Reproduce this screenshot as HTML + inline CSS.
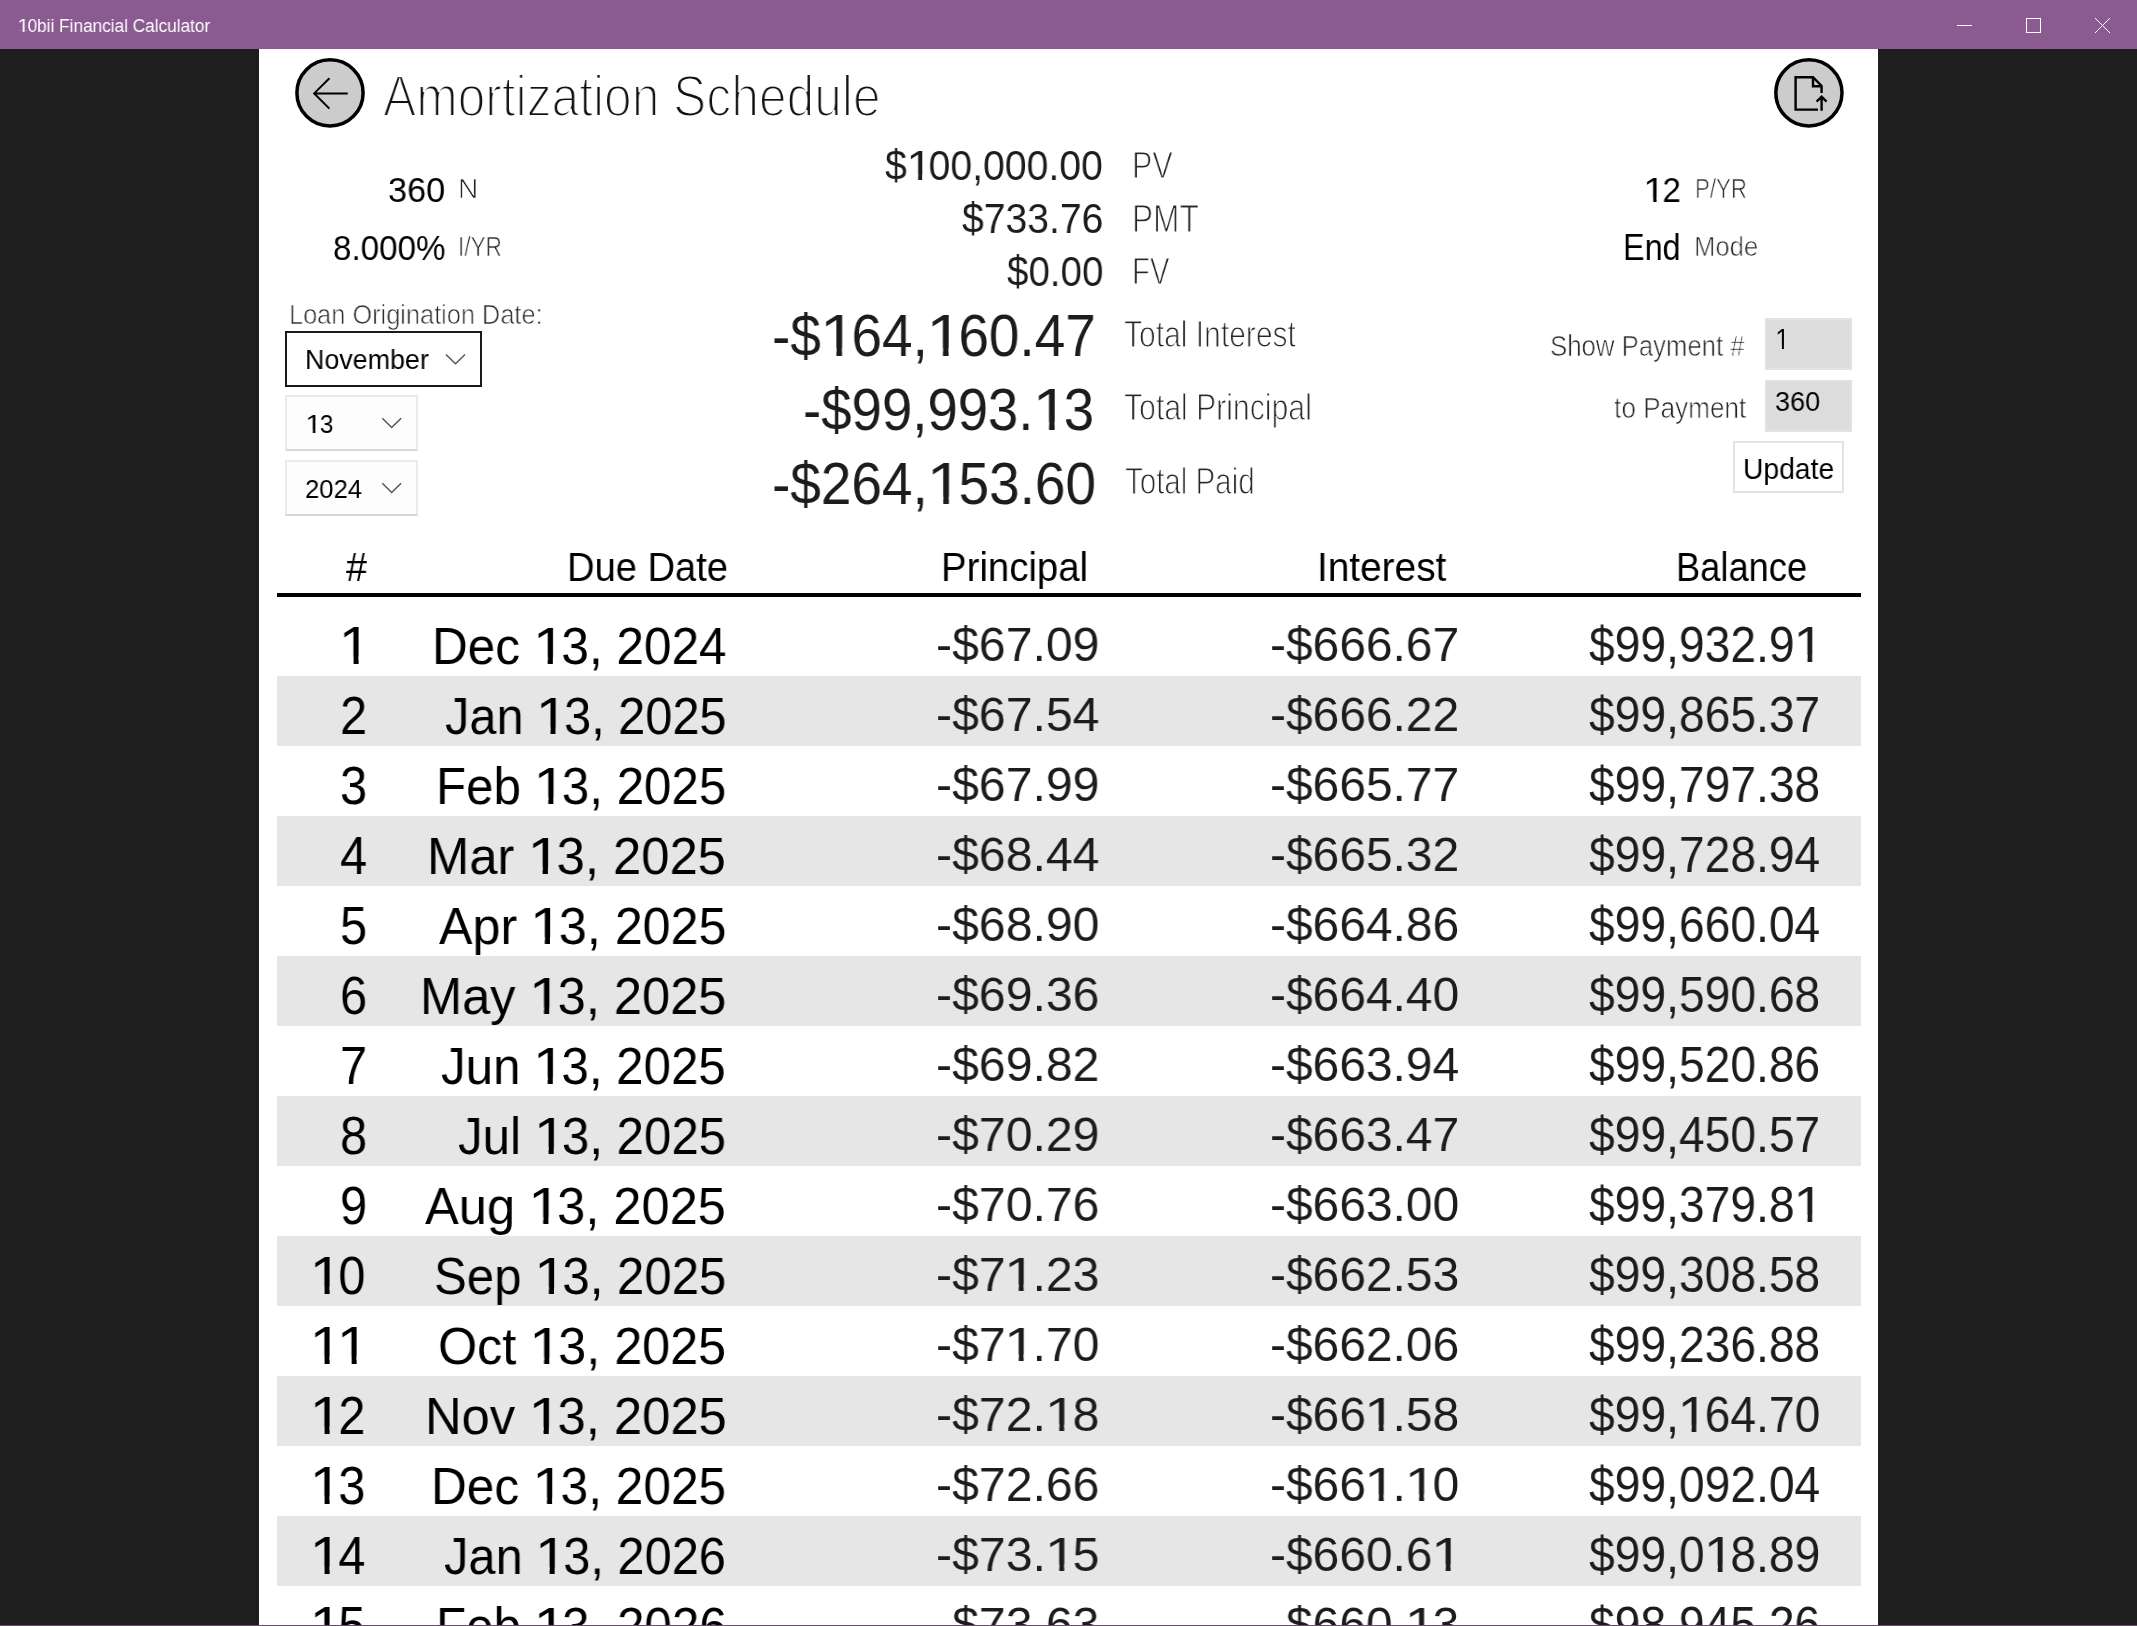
<!DOCTYPE html>
<html>
<head>
<meta charset="utf-8">
<title>10bii Financial Calculator</title>
<style>
html, body { margin: 0; padding: 0; }
body {
  width: 2137px; height: 1626px; overflow: hidden; position: relative;
  background: #1e1e1e;
  font-family: "Liberation Sans", sans-serif;
}
.titlebar { position: absolute; left: 0; top: 0; width: 2137px; height: 49px; background: #8b5a91; }
.panel { position: absolute; left: 259px; top: 49px; width: 1619px; height: 1577px; background: #fff; overflow: hidden; }
.o { display: inline-block; transform: scaleX(1.2); transform-origin: 0.13em 0; clip-path: polygon(0 0, 100% 0, 100% calc(100% - 0.29em), 0.339em calc(100% - 0.29em), 0.339em 100%, 0.253em 100%, 0.253em calc(100% - 0.29em), 0 calc(100% - 0.29em)); }
.t { position: absolute; white-space: nowrap; line-height: 1; transform-origin: 0 0; will-change: transform; }
.layer { position: absolute; left: 0; top: 0; width: 2137px; height: 1626px; }
.clip { position: absolute; left: 0; top: 0; width: 2137px; height: 1625px; overflow: hidden; }
.stripe { position: absolute; left: 277px; width: 1584px; height: 70px; background: #e6e6e6; }
.hline { position: absolute; left: 277px; top: 593px; width: 1584px; height: 4px; background: #000; }
.box { position: absolute; box-sizing: border-box; }
.botline { position: absolute; left: 0; top: 1625px; width: 2137px; height: 1px; background: #6e4a73; }
</style>
</head>
<body>
<div class="titlebar"></div>
<div class="panel"></div>
<div style="position:absolute;left:0;top:49px;width:259px;height:3px;background:linear-gradient(#241629,#1e1e1e)"></div>
<div style="position:absolute;left:1878px;top:49px;width:259px;height:3px;background:linear-gradient(#241629,#1e1e1e)"></div>
<div style="position:absolute;left:259px;top:49px;width:1619px;height:2px;background:linear-gradient(#fbf2fb,#fff)"></div>

<!-- window controls -->
<svg class="layer" width="2137" height="60" viewBox="0 0 2137 60" style="height:60px">
  <line x1="1957" y1="25.5" x2="1972" y2="25.5" stroke="#fff" stroke-width="1"/>
  <rect x="2026.5" y="18.5" width="14" height="14" fill="none" stroke="#fff" stroke-width="1"/>
  <line x1="2095" y1="18" x2="2110" y2="33" stroke="#fff" stroke-width="1"/>
  <line x1="2110" y1="18" x2="2095" y2="33" stroke="#fff" stroke-width="1"/>
</svg>

<!-- back button + export button -->
<svg class="layer" width="2137" height="140" viewBox="0 0 2137 140" style="height:140px">
  <circle cx="330" cy="92.9" r="33.1" fill="#cccccc" stroke="#000" stroke-width="3.5"/>
  <path d="M329.4 78.3 L314.2 93.4 L329.4 108.6 M314.2 93.4 L347.8 93.4" fill="none" stroke="#000" stroke-width="2"/>
  <circle cx="1808.9" cy="92.85" r="33.1" fill="#cccccc" stroke="#000" stroke-width="3.5"/>
  <path d="M1818 109.6 L1795.6 109.6 L1795.6 77.2 L1813 77.2 L1821.6 86 L1821.6 93 M1813 77.2 L1813 86.2 L1821.6 86.2" fill="none" stroke="#000" stroke-width="2.4"/>
  <path d="M1821.6 96.5 L1821.6 110.8 M1816.6 101.6 L1821.6 96.6 L1826.6 101.6" fill="none" stroke="#000" stroke-width="2.4"/>
</svg>

<!-- form controls -->
<div class="box" style="left:285px;top:331px;width:197px;height:56px;border:2px solid #1a1a1a;background:#fff"></div>
<div class="box" style="left:285px;top:395px;width:133px;height:56px;border:2px solid #ebebeb;border-bottom:2px solid #d6d6d6;background:#fdfdfd"></div>
<div class="box" style="left:285px;top:460px;width:133px;height:56px;border:2px solid #ebebeb;border-bottom:2px solid #d6d6d6;background:#fdfdfd"></div>
<svg class="layer" width="2137" height="520" viewBox="0 0 2137 520" style="height:520px">
  <path d="M446 354.5 L455.5 363.8 L465 354.5" fill="none" stroke="#555" stroke-width="1.5"/>
  <path d="M382.3 418.2 L391.7 427.5 L401.1 418.2" fill="none" stroke="#555" stroke-width="1.5"/>
  <path d="M382.3 483.2 L391.7 492.5 L401.1 483.2" fill="none" stroke="#555" stroke-width="1.5"/>
</svg>
<div class="box" style="left:1765px;top:318px;width:87px;height:52px;background:#dcdcdc;border:2px solid #e2e2e2"></div>
<div class="box" style="left:1765px;top:380px;width:87px;height:52px;background:#dcdcdc;border:2px solid #e2e2e2"></div>
<div class="box" style="left:1733px;top:441px;width:111px;height:52px;background:#fff;border:2px solid #e3e3e3"></div>

<!-- table -->
<div class="clip">
<div class="stripe" style="top:676.0px"></div>
<div class="stripe" style="top:816.0px"></div>
<div class="stripe" style="top:956.0px"></div>
<div class="stripe" style="top:1096.0px"></div>
<div class="stripe" style="top:1236.0px"></div>
<div class="stripe" style="top:1376.0px"></div>
<div class="stripe" style="top:1516.0px"></div>
<div class="hline"></div>
<div class="t" style="left:340px;top:618px;font-size:54.15px;transform:scaleX(0.9020);color:#000;"><span class="o">1</span></div>
<div class="t" style="left:432px;top:620px;font-size:52.44px;transform:scaleX(0.9441);color:#000;">Dec <span class="o">1</span>3, 2024</div>
<div class="t" style="left:936px;top:620px;font-size:48.71px;transform:scaleX(0.9898);color:#1c1c1c;">-$67.09</div>
<div class="t" style="left:1270px;top:620px;font-size:48.71px;transform:scaleX(0.9839);color:#1c1c1c;">-$666.67</div>
<div class="t" style="left:1589px;top:620px;font-size:49.43px;transform:scaleX(0.9346);color:#1c1c1c;">$99,932.9<span class="o">1</span></div>
<div class="t" style="left:340px;top:688px;font-size:54.15px;transform:scaleX(0.9020);color:#000;--bg:#e6e6e6;">2</div>
<div class="t" style="left:445px;top:690px;font-size:52.44px;transform:scaleX(0.9284);color:#000;--bg:#e6e6e6;">Jan <span class="o">1</span>3, 2025</div>
<div class="t" style="left:936px;top:690px;font-size:48.71px;transform:scaleX(0.9898);color:#1c1c1c;--bg:#e6e6e6;">-$67.54</div>
<div class="t" style="left:1270px;top:690px;font-size:48.71px;transform:scaleX(0.9839);color:#1c1c1c;--bg:#e6e6e6;">-$666.22</div>
<div class="t" style="left:1589px;top:690px;font-size:49.43px;transform:scaleX(0.9346);color:#1c1c1c;--bg:#e6e6e6;">$99,865.37</div>
<div class="t" style="left:340px;top:758px;font-size:54.15px;transform:scaleX(0.9020);color:#000;">3</div>
<div class="t" style="left:436px;top:760px;font-size:52.44px;transform:scaleX(0.9389);color:#000;">Feb <span class="o">1</span>3, 2025</div>
<div class="t" style="left:936px;top:760px;font-size:48.71px;transform:scaleX(0.9898);color:#1c1c1c;">-$67.99</div>
<div class="t" style="left:1270px;top:760px;font-size:48.71px;transform:scaleX(0.9839);color:#1c1c1c;">-$665.77</div>
<div class="t" style="left:1589px;top:760px;font-size:49.43px;transform:scaleX(0.9346);color:#1c1c1c;">$99,797.38</div>
<div class="t" style="left:340px;top:828px;font-size:54.15px;transform:scaleX(0.9020);color:#000;--bg:#e6e6e6;">4</div>
<div class="t" style="left:427px;top:830px;font-size:52.44px;transform:scaleX(0.9673);color:#000;--bg:#e6e6e6;">Mar <span class="o">1</span>3, 2025</div>
<div class="t" style="left:936px;top:830px;font-size:48.71px;transform:scaleX(0.9898);color:#1c1c1c;--bg:#e6e6e6;">-$68.44</div>
<div class="t" style="left:1270px;top:830px;font-size:48.71px;transform:scaleX(0.9839);color:#1c1c1c;--bg:#e6e6e6;">-$665.32</div>
<div class="t" style="left:1589px;top:830px;font-size:49.43px;transform:scaleX(0.9346);color:#1c1c1c;--bg:#e6e6e6;">$99,728.94</div>
<div class="t" style="left:340px;top:898px;font-size:54.15px;transform:scaleX(0.9020);color:#000;">5</div>
<div class="t" style="left:439px;top:900px;font-size:52.44px;transform:scaleX(0.9569);color:#000;">Apr <span class="o">1</span>3, 2025</div>
<div class="t" style="left:936px;top:900px;font-size:48.71px;transform:scaleX(0.9898);color:#1c1c1c;">-$68.90</div>
<div class="t" style="left:1270px;top:900px;font-size:48.71px;transform:scaleX(0.9839);color:#1c1c1c;">-$664.86</div>
<div class="t" style="left:1589px;top:900px;font-size:49.43px;transform:scaleX(0.9346);color:#1c1c1c;">$99,660.04</div>
<div class="t" style="left:340px;top:968px;font-size:54.15px;transform:scaleX(0.9020);color:#000;--bg:#e6e6e6;">6</div>
<div class="t" style="left:420px;top:970px;font-size:52.44px;transform:scaleX(0.9642);color:#000;--bg:#e6e6e6;">May <span class="o">1</span>3, 2025</div>
<div class="t" style="left:936px;top:970px;font-size:48.71px;transform:scaleX(0.9898);color:#1c1c1c;--bg:#e6e6e6;">-$69.36</div>
<div class="t" style="left:1270px;top:970px;font-size:48.71px;transform:scaleX(0.9839);color:#1c1c1c;--bg:#e6e6e6;">-$664.40</div>
<div class="t" style="left:1589px;top:970px;font-size:49.43px;transform:scaleX(0.9346);color:#1c1c1c;--bg:#e6e6e6;">$99,590.68</div>
<div class="t" style="left:340px;top:1038px;font-size:54.15px;transform:scaleX(0.9020);color:#000;">7</div>
<div class="t" style="left:441px;top:1040px;font-size:52.44px;transform:scaleX(0.9390);color:#000;">Jun <span class="o">1</span>3, 2025</div>
<div class="t" style="left:936px;top:1040px;font-size:48.71px;transform:scaleX(0.9898);color:#1c1c1c;">-$69.82</div>
<div class="t" style="left:1270px;top:1040px;font-size:48.71px;transform:scaleX(0.9839);color:#1c1c1c;">-$663.94</div>
<div class="t" style="left:1589px;top:1040px;font-size:49.43px;transform:scaleX(0.9346);color:#1c1c1c;">$99,520.86</div>
<div class="t" style="left:340px;top:1108px;font-size:54.15px;transform:scaleX(0.9020);color:#000;--bg:#e6e6e6;">8</div>
<div class="t" style="left:458px;top:1110px;font-size:52.44px;transform:scaleX(0.9381);color:#000;--bg:#e6e6e6;">Jul <span class="o">1</span>3, 2025</div>
<div class="t" style="left:936px;top:1110px;font-size:48.71px;transform:scaleX(0.9898);color:#1c1c1c;--bg:#e6e6e6;">-$70.29</div>
<div class="t" style="left:1270px;top:1110px;font-size:48.71px;transform:scaleX(0.9839);color:#1c1c1c;--bg:#e6e6e6;">-$663.47</div>
<div class="t" style="left:1589px;top:1110px;font-size:49.43px;transform:scaleX(0.9346);color:#1c1c1c;--bg:#e6e6e6;">$99,450.57</div>
<div class="t" style="left:340px;top:1178px;font-size:54.15px;transform:scaleX(0.9020);color:#000;">9</div>
<div class="t" style="left:425px;top:1180px;font-size:52.44px;transform:scaleX(0.9643);color:#000;">Aug <span class="o">1</span>3, 2025</div>
<div class="t" style="left:936px;top:1180px;font-size:48.71px;transform:scaleX(0.9898);color:#1c1c1c;">-$70.76</div>
<div class="t" style="left:1270px;top:1180px;font-size:48.71px;transform:scaleX(0.9839);color:#1c1c1c;">-$663.00</div>
<div class="t" style="left:1589px;top:1180px;font-size:49.43px;transform:scaleX(0.9346);color:#1c1c1c;">$99,379.8<span class="o">1</span></div>
<div class="t" style="left:311px;top:1248px;font-size:54.15px;transform:scaleX(0.9020);color:#000;--bg:#e6e6e6;"><span class="o">1</span>0</div>
<div class="t" style="left:434px;top:1250px;font-size:52.44px;transform:scaleX(0.9369);color:#000;--bg:#e6e6e6;">Sep <span class="o">1</span>3, 2025</div>
<div class="t" style="left:936px;top:1250px;font-size:48.71px;transform:scaleX(0.9898);color:#1c1c1c;--bg:#e6e6e6;">-$7<span class="o">1</span>.23</div>
<div class="t" style="left:1270px;top:1250px;font-size:48.71px;transform:scaleX(0.9839);color:#1c1c1c;--bg:#e6e6e6;">-$662.53</div>
<div class="t" style="left:1589px;top:1250px;font-size:49.43px;transform:scaleX(0.9346);color:#1c1c1c;--bg:#e6e6e6;">$99,308.58</div>
<div class="t" style="left:311px;top:1318px;font-size:54.15px;transform:scaleX(0.9020);color:#000;"><span class="o">1</span><span class="o">1</span></div>
<div class="t" style="left:438px;top:1320px;font-size:52.44px;transform:scaleX(0.9595);color:#000;">Oct <span class="o">1</span>3, 2025</div>
<div class="t" style="left:936px;top:1320px;font-size:48.71px;transform:scaleX(0.9898);color:#1c1c1c;">-$7<span class="o">1</span>.70</div>
<div class="t" style="left:1270px;top:1320px;font-size:48.71px;transform:scaleX(0.9839);color:#1c1c1c;">-$662.06</div>
<div class="t" style="left:1589px;top:1320px;font-size:49.43px;transform:scaleX(0.9346);color:#1c1c1c;">$99,236.88</div>
<div class="t" style="left:311px;top:1388px;font-size:54.15px;transform:scaleX(0.9020);color:#000;--bg:#e6e6e6;"><span class="o">1</span>2</div>
<div class="t" style="left:425px;top:1390px;font-size:52.44px;transform:scaleX(0.9672);color:#000;--bg:#e6e6e6;">Nov <span class="o">1</span>3, 2025</div>
<div class="t" style="left:936px;top:1390px;font-size:48.71px;transform:scaleX(0.9898);color:#1c1c1c;--bg:#e6e6e6;">-$72.<span class="o">1</span>8</div>
<div class="t" style="left:1270px;top:1390px;font-size:48.71px;transform:scaleX(0.9839);color:#1c1c1c;--bg:#e6e6e6;">-$66<span class="o">1</span>.58</div>
<div class="t" style="left:1589px;top:1390px;font-size:49.43px;transform:scaleX(0.9346);color:#1c1c1c;--bg:#e6e6e6;">$99,<span class="o">1</span>64.70</div>
<div class="t" style="left:311px;top:1458px;font-size:54.15px;transform:scaleX(0.9020);color:#000;"><span class="o">1</span>3</div>
<div class="t" style="left:431px;top:1460px;font-size:52.44px;transform:scaleX(0.9460);color:#000;">Dec <span class="o">1</span>3, 2025</div>
<div class="t" style="left:936px;top:1460px;font-size:48.71px;transform:scaleX(0.9898);color:#1c1c1c;">-$72.66</div>
<div class="t" style="left:1270px;top:1460px;font-size:48.71px;transform:scaleX(0.9839);color:#1c1c1c;">-$66<span class="o">1</span>.<span class="o">1</span>0</div>
<div class="t" style="left:1589px;top:1460px;font-size:49.43px;transform:scaleX(0.9346);color:#1c1c1c;">$99,092.04</div>
<div class="t" style="left:311px;top:1528px;font-size:54.15px;transform:scaleX(0.9020);color:#000;--bg:#e6e6e6;"><span class="o">1</span>4</div>
<div class="t" style="left:444px;top:1530px;font-size:52.44px;transform:scaleX(0.9297);color:#000;--bg:#e6e6e6;">Jan <span class="o">1</span>3, 2026</div>
<div class="t" style="left:936px;top:1530px;font-size:48.71px;transform:scaleX(0.9898);color:#1c1c1c;--bg:#e6e6e6;">-$73.<span class="o">1</span>5</div>
<div class="t" style="left:1270px;top:1530px;font-size:48.71px;transform:scaleX(0.9839);color:#1c1c1c;--bg:#e6e6e6;">-$660.6<span class="o">1</span></div>
<div class="t" style="left:1589px;top:1530px;font-size:49.43px;transform:scaleX(0.9346);color:#1c1c1c;--bg:#e6e6e6;">$99,0<span class="o">1</span>8.89</div>
<div class="t" style="left:311px;top:1598px;font-size:54.15px;transform:scaleX(0.9020);color:#000;"><span class="o">1</span>5</div>
<div class="t" style="left:436px;top:1600px;font-size:52.44px;transform:scaleX(0.9406);color:#000;">Feb <span class="o">1</span>3, 2026</div>
<div class="t" style="left:936px;top:1600px;font-size:48.71px;transform:scaleX(0.9898);color:#1c1c1c;">-$73.63</div>
<div class="t" style="left:1270px;top:1600px;font-size:48.71px;transform:scaleX(0.9839);color:#1c1c1c;">-$660.<span class="o">1</span>3</div>
<div class="t" style="left:1589px;top:1600px;font-size:49.43px;transform:scaleX(0.9346);color:#1c1c1c;">$98,945.26</div>
</div>

<div class="t" style="left:18px;top:17px;font-size:18.75px;transform:scaleX(0.9175);color:#fff;--bg:#8b5a91;"><span class="o">1</span>0bii Financial Calculator</div>
<div class="t" style="left:383px;top:69px;font-size:56.83px;transform:scaleX(0.8751);color:#111;-webkit-text-stroke:2.2px #fff;">Amortization Schedule</div>
<div class="t" style="left:388px;top:172px;font-size:35.10px;transform:scaleX(0.9777);color:#000;">360</div>
<div class="t" style="left:458px;top:176px;font-size:26.89px;transform:scaleX(1.0445);color:#262626;-webkit-text-stroke:0.7px #fff;">N</div>
<div class="t" style="left:333px;top:230px;font-size:35.10px;transform:scaleX(0.9459);color:#000;">8.000%</div>
<div class="t" style="left:458px;top:234px;font-size:26.89px;transform:scaleX(0.8422);color:#262626;-webkit-text-stroke:0.7px #fff;">I/YR</div>
<div class="t" style="left:885px;top:145px;font-size:42.26px;transform:scaleX(0.9270);color:#1c1c1c;">$<span class="o">1</span>00,000.00</div>
<div class="t" style="left:1132px;top:147px;font-size:37.06px;transform:scaleX(0.8223);color:#262626;-webkit-text-stroke:1.1px #fff;">PV</div>
<div class="t" style="left:962px;top:198px;font-size:42.26px;transform:scaleX(0.9253);color:#1c1c1c;">$733.76</div>
<div class="t" style="left:1132px;top:201px;font-size:37.94px;transform:scaleX(0.8343);color:#262626;-webkit-text-stroke:1.1px #fff;">PMT</div>
<div class="t" style="left:1007px;top:251px;font-size:42.12px;transform:scaleX(0.9150);color:#1c1c1c;">$0.00</div>
<div class="t" style="left:1132px;top:253px;font-size:37.50px;transform:scaleX(0.7792);color:#262626;-webkit-text-stroke:1.1px #fff;">FV</div>
<div class="t" style="left:772px;top:306px;font-size:59.31px;transform:scaleX(0.9265);color:#1c1c1c;">-$<span class="o">1</span>64,<span class="o">1</span>60.47</div>
<div class="t" style="left:803px;top:380px;font-size:59.31px;transform:scaleX(0.9198);color:#1c1c1c;">-$99,993.<span class="o">1</span>3</div>
<div class="t" style="left:772px;top:455px;font-size:58.88px;transform:scaleX(0.9338);color:#1c1c1c;">-$264,<span class="o">1</span>53.60</div>
<div class="t" style="left:1124px;top:316px;font-size:37.06px;transform:scaleX(0.8105);color:#262626;-webkit-text-stroke:1.1px #fff;">Total Interest</div>
<div class="t" style="left:1124px;top:389px;font-size:37.06px;transform:scaleX(0.8140);color:#262626;-webkit-text-stroke:1.1px #fff;">Total Principal</div>
<div class="t" style="left:1125px;top:463px;font-size:37.35px;transform:scaleX(0.7905);color:#262626;-webkit-text-stroke:1.1px #fff;">Total Paid</div>
<div class="t" style="left:1644px;top:173px;font-size:35.53px;transform:scaleX(0.9334);color:#000;"><span class="o">1</span>2</div>
<div class="t" style="left:1695px;top:176px;font-size:27.03px;transform:scaleX(0.8238);color:#262626;-webkit-text-stroke:0.7px #fff;">P/YR</div>
<div class="t" style="left:1623px;top:230px;font-size:36.19px;transform:scaleX(0.8934);color:#000;">End</div>
<div class="t" style="left:1694px;top:234px;font-size:27.03px;transform:scaleX(0.9502);color:#262626;-webkit-text-stroke:0.7px #fff;">Mode</div>
<div class="t" style="left:1550px;top:331px;font-size:29.51px;transform:scaleX(0.8729);color:#262626;-webkit-text-stroke:0.7px #fff;">Show Payment #</div>
<div class="t" style="left:1614px;top:393px;font-size:29.36px;transform:scaleX(0.8907);color:#262626;-webkit-text-stroke:0.7px #fff;">to Payment</div>
<div class="t" style="left:1776px;top:325px;font-size:28.63px;transform:scaleX(0.7294);color:#000;--bg:#dcdcdc;"><span class="o">1</span></div>
<div class="t" style="left:1775px;top:388px;font-size:27.79px;transform:scaleX(0.9725);color:#000;--bg:#dcdcdc;">360</div>
<div class="t" style="left:1743px;top:454px;font-size:29.51px;transform:scaleX(0.9588);color:#000;">Update</div>
<div class="t" style="left:289px;top:301px;font-size:27.76px;transform:scaleX(0.9132);color:#262626;-webkit-text-stroke:0.7px #fff;">Loan Origination Date:</div>
<div class="t" style="left:305px;top:346px;font-size:27.62px;transform:scaleX(0.9721);color:#000;">November</div>
<div class="t" style="left:306px;top:411px;font-size:26.36px;transform:scaleX(0.9331);color:#000;--bg:#fdfdfd;"><span class="o">1</span>3</div>
<div class="t" style="left:305px;top:476px;font-size:26.65px;transform:scaleX(0.9621);color:#000;">2024</div>
<div class="t" style="left:346px;top:547px;font-size:40.94px;transform:scaleX(0.9288);color:#000;">#</div>
<div class="t" style="left:567px;top:547px;font-size:40.70px;transform:scaleX(0.9365);color:#000;">Due Date</div>
<div class="t" style="left:941px;top:547px;font-size:41.13px;transform:scaleX(0.9327);color:#000;">Principal</div>
<div class="t" style="left:1317px;top:547px;font-size:41.13px;transform:scaleX(0.9429);color:#000;">Interest</div>
<div class="t" style="left:1676px;top:547px;font-size:41.28px;transform:scaleX(0.8793);color:#000;">Balance</div>

<div class="botline"></div>
</body>
</html>
